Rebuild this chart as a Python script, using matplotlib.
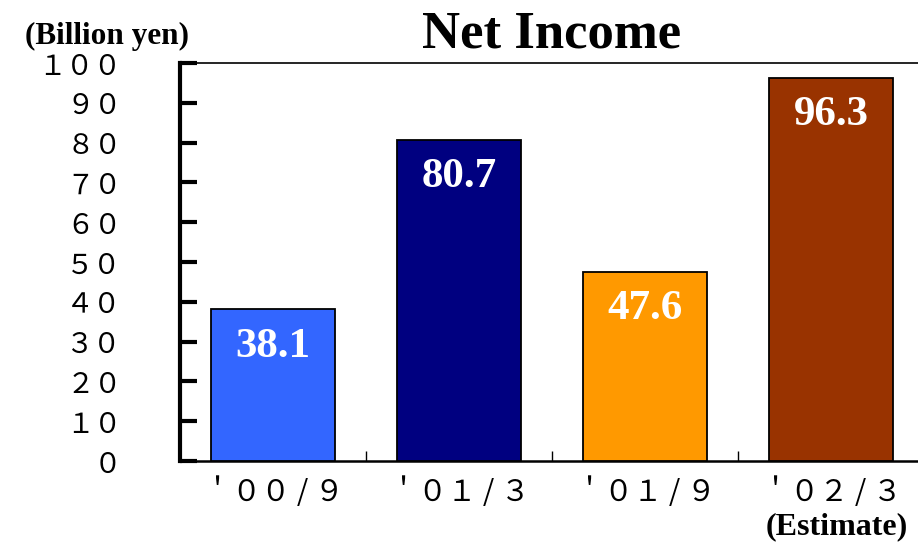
import matplotlib
matplotlib.use("Agg")
import matplotlib.pyplot as plt
import numpy as np

# data
periods = ["'00/9", "'01/3", "'01/9", "'02/3"]
net_income = [38.1, 80.7, 47.6, 96.3]
bar_colors = ["#3366FF", "#000080", "#FF9900", "#993300"]
y_ticks = list(range(0, 101, 10))

# full-width forms, as in the original Japanese-style layout
FW = str.maketrans("0123456789'", "０１２３４５６７８９＇")
def fullwidth(s):
    return s.translate(FW).replace("/", " / ")

jp = ["Noto Sans CJK JP", "DejaVu Sans"]
serif = ["Liberation Serif", "DejaVu Serif"]

fig = plt.figure(figsize=(9.18, 5.42), dpi=100)
ax = fig.add_axes([180 / 918, 1 - 461 / 542, 744 / 918, 398 / 542])

x = np.arange(len(periods))
bars = ax.bar(x, net_income, width=0.667, color=bar_colors,
              edgecolor="black", linewidth=1.3, zorder=3)

for xi, v in zip(x, net_income):
    ax.annotate(f"{v:.1f}", xy=(xi, v), xytext=(0, -27),
                textcoords="offset points", ha="center", va="center",
                color="white", fontsize=31, fontweight="bold", family=serif)

ax.set_xlim(-0.5, len(periods) - 0.5)
ax.set_ylim(0, 100)

ax.set_yticks(y_ticks)
ax.set_yticklabels([fullwidth(str(t)) for t in y_ticks], family=jp, fontsize=20)
ax.tick_params(axis="y", direction="in", length=12, width=3, pad=42)

ax.set_xticks(x)
ax.set_xticklabels([fullwidth(p) for p in periods], family=jp, fontsize=21)
ax.tick_params(axis="x", which="major", length=0, pad=12)
ax.set_xticks(x[:-1] + 0.5, minor=True)
ax.tick_params(axis="x", which="minor", direction="in", length=7, width=1)

ax.spines["left"].set_linewidth(3)
ax.spines["bottom"].set_linewidth(1.8)
ax.spines["top"].set_linewidth(1.2)
ax.spines["right"].set_visible(False)

ax.set_title("Net Income", fontsize=38, fontweight="bold", family=serif, pad=11)
fig.text(25 / 918, 1 - 36 / 542, "(Billion yen)", fontsize=22.5, fontweight="bold",
         family=serif, ha="left", va="center")
fig.text(908 / 918, 1 - 527 / 542, "(Estimate)", fontsize=23, fontweight="bold",
         family=serif, ha="right", va="center")

fig.savefig("out.png", dpi=100)
